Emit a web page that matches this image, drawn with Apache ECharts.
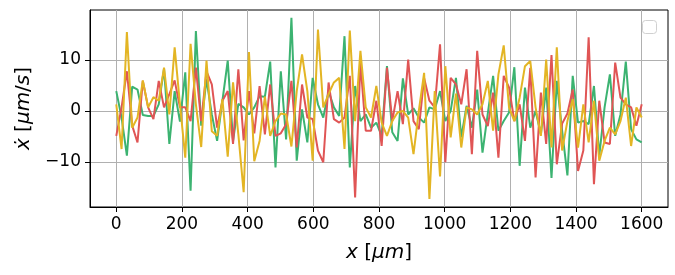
<!DOCTYPE html>
<html>
<head>
<meta charset="utf-8">
<script src="https://cdn.jsdelivr.net/npm/echarts@6/dist/echarts.min.js"></script>
<style>
html,body{margin:0;padding:0;background:#fff;}
#c{width:675px;height:275px;}
</style>
</head>
<body>
<div id="c"></div>
<script>
// x positions: 100 samples from 0 to 1600 µm
const N = 100;
const xValues = Array.from({length: N}, (_, i) => 1600 * i / (N - 1));

const greenValues = [
  3.9, -1.3, -8.8, 4.8, 4.2, -0.8, -1.0, -1.0, 1.3, 8.3,
  -6.5, 3.9, -2.1, 7.6, -15.7, 15.7, -2.9, 6.2, -0.7, -5.9,
  2.0, 9.9, -5.9, 1.4, 0.7, -0.7, 0.7, 2.9, 2.8, 9.7,
  -11.1, 7.8, -5.6, 18.3, -9.8, 0.3, -6.2, 6.5, 1.3, -1.3,
  3.9, 0.7, -1.0, 14.7, -11.1, 4.9, -2.0, -0.7, -3.3, -2.3,
  -4.9, 8.8, -4.2, -5.9, 6.4, -0.7, 0.5, -1.3, -2.3, 0.7,
  0.3, 3.9, -2.0, 0.0, 6.5, -5.2, 1.0, -3.3, 4.2, -8.2,
  -0.5, 6.9, -3.9, -2.0, -0.3, 8.6, -10.8, 4.6, -3.3, 0.0,
  -4.6, 4.6, -13.2, 5.9, -3.9, -12.7, 6.9, -2.3, -2.0, -2.6,
  4.9, -8.8, 0.7, 7.2, -4.9, -0.7, 9.7, -3.6, -5.6, -6.2
];

const redValues = [
  -4.9, 0.7, 7.8, -2.9, -6.2, 5.9, 0.7, -1.6, 5.9, 0.7,
  3.3, 6.0, 0.7, 0.7, -2.0, 8.5, -2.0, 7.8, 5.2, -3.3,
  2.0, 3.9, -6.5, 8.2, -5.8, 3.9, -4.4, 4.9, -4.6, 5.2,
  -4.9, -4.4, -2.6, 5.9, -7.2, 5.2, -1.3, -1.6, -7.8, -10.1,
  5.6, -1.6, -2.3, -1.3, 6.9, -17.0, 9.5, -3.9, -3.9, 2.0,
  -6.9, 8.5, -2.0, 3.9, -2.6, 10.1, -2.0, -3.6, 6.5, 2.0,
  0.7, 13.1, -10.1, 6.5, 5.2, 1.3, 8.2, -8.5, 11.8, -0.7,
  -3.0, 3.6, -9.2, 6.9, 4.6, -2.0, 1.3, -5.9, 8.5, -13.1,
  3.6, -6.5, 11.0, -10.5, -2.5, -0.5, 4.2, -11.8, -7.8, 14.5,
  -14.4, 2.0, -6.2, -6.5, 9.5, 2.6, 1.3, 0.7, -2.9, 1.3
];

const yellowValues = [
  1.3, -7.5, 15.5, -3.3, -1.3, 6.0, 0.7, 2.7, 2.0, 8.5,
  -0.7, 12.5, 1.3, -9.2, 13.2, 1.3, -7.1, 9.9, -4.0, -4.9,
  2.3, -9.0, 5.6, -4.6, -16.0, 11.6, -9.9, -5.9, 2.8, -4.9,
  -2.0, -0.5, -0.7, -7.0, 3.9, 11.1, 3.9, -9.8, 16.0, 0.7,
  3.3, 5.6, 6.5, -7.5, 15.8, -2.0, 11.8, 0.7, -1.3, 4.9,
  -2.3, -4.9, -2.0, -0.3, 0.0, -1.3, -8.5, 0.0, 7.5, -17.3,
  3.9, -12.9, 8.8, -5.2, 3.4, -7.2, 0.7, 0.3, -0.7, 1.3,
  5.9, -3.9, 7.2, 12.9, 0.7, -2.0, 2.6, 8.8, 9.8, 0.7,
  -4.9, 10.1, -7.2, 12.5, -7.8, -2.0, 2.3, -7.2, 1.3, -6.2,
  2.0, -9.8, -5.9, -3.3, -4.6, -2.0, 2.6, -6.9, 0.7, -1.3
];

const xTicks = [0, 200, 400, 600, 800, 1000, 1200, 1400, 1600];
const yTicks = [-10, 0, 10];

const pairs = vals => vals.map((v, i) => [xValues[i], v]);
const FONT = 'DejaVu Sans';

const chart = echarts.init(document.getElementById('c'), null, {renderer: 'canvas'});
chart.setOption({
  animation: false,
  backgroundColor: '#fff',
  grid: {left: 90, top: 10, width: 578, height: 197, show: true, borderColor: '#000', borderWidth: 1, backgroundColor: 'transparent'},
  xAxis: {
    type: 'value', min: -80, max: 1680,
    axisLine: {show: true, onZero: false, lineStyle: {color: '#000', width: 1}},
    axisTick: {show: true, inside: false, length: 5, customValues: xTicks, lineStyle: {color: '#000'}},
    axisLabel: {customValues: xTicks, margin: 9, color: '#000', fontFamily: FONT, fontSize: 17,
      formatter: v => String(v)},
    splitLine: {show: true, lineStyle: {color: '#b0b0b0', width: 1}},
    name: '{i|x} [{i|μm}]', nameLocation: 'middle', nameGap: 36,
    nameTextStyle: {color: '#000', fontFamily: FONT, fontSize: 20,
      rich: {i: {fontStyle: 'italic', fontFamily: FONT, fontSize: 20, color: '#000'}}}
  },
  yAxis: {
    type: 'value', min: -18.9, max: 19.85,
    axisLine: {show: true, onZero: false, lineStyle: {color: '#000', width: 1}},
    axisTick: {show: true, inside: false, length: 5, customValues: yTicks, lineStyle: {color: '#000'}},
    axisLabel: {customValues: yTicks, margin: 9, color: '#000', fontFamily: FONT, fontSize: 17,
      formatter: v => String(v).replace('-', '\u2212')},
    splitLine: {show: true, lineStyle: {color: '#b0b0b0', width: 1}},
    name: '{i|ẋ} [{i|μm}/{i|s}]', nameLocation: 'middle', nameGap: 50, nameRotate: 90,
    nameTextStyle: {color: '#000', fontFamily: FONT, fontSize: 20,
      rich: {i: {fontStyle: 'italic', fontFamily: FONT, fontSize: 20, color: '#000'}}}
  },
  series: [
    {type: 'line', data: pairs(greenValues), showSymbol: false, lineStyle: {color: '#3cb371', width: 2}, itemStyle: {color: '#3cb371'}, z: 2},
    {type: 'line', data: pairs(redValues), showSymbol: false, lineStyle: {color: '#e05555', width: 2}, itemStyle: {color: '#e05555'}, z: 3},
    {type: 'line', data: pairs(yellowValues), showSymbol: false, lineStyle: {color: '#e3b524', width: 2}, itemStyle: {color: '#e3b524'}, z: 4}
  ],
  graphic: [
    {type: 'rect', right: 18, top: 20, shape: {width: 14, height: 13, r: 3},
      style: {fill: '#fff', stroke: '#d0d0d0', lineWidth: 1}, z: 10}
  ]
});
</script>
</body>
</html>
